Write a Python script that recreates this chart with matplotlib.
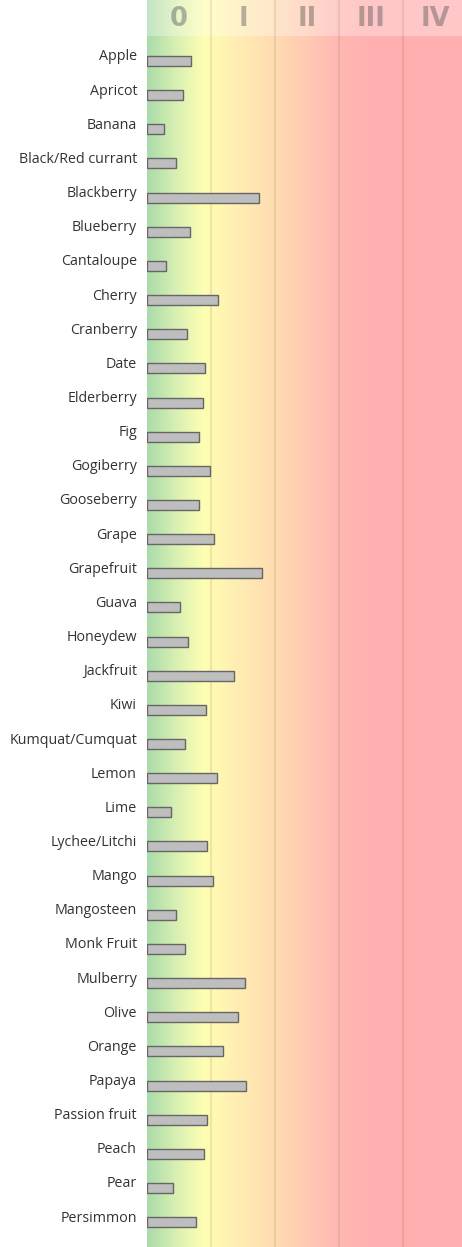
import numpy as np
import matplotlib
matplotlib.use("Agg")
import matplotlib.pyplot as plt
from matplotlib.colors import LinearSegmentedColormap

fruits = ["Apple", "Apricot", "Banana", "Black/Red currant", "Blackberry", "Blueberry",
          "Cantaloupe", "Cherry", "Cranberry", "Date", "Elderberry", "Fig", "Gogiberry",
          "Gooseberry", "Grape", "Grapefruit", "Guava", "Honeydew", "Jackfruit", "Kiwi",
          "Kumquat/Cumquat", "Lemon", "Lime", "Lychee/Litchi", "Mango", "Mangosteen",
          "Monk Fruit", "Mulberry", "Olive", "Orange", "Papaya", "Passion fruit", "Peach",
          "Pear", "Persimmon"]
values = [0.68, 0.56, 0.26, 0.46, 1.75, 0.67, 0.30, 1.11, 0.63, 0.91, 0.875, 0.82, 0.99,
          0.82, 1.04, 1.80, 0.51, 0.64, 1.36, 0.92, 0.60, 1.10, 0.37, 0.94, 1.03, 0.45,
          0.60, 1.53, 1.42, 1.19, 1.54, 0.94, 0.89, 0.41, 0.76]
classes = ["0", "I", "II", "III", "IV"]

W, H, DPI = 462, 1247, 100
fig = plt.figure(figsize=(W / DPI, H / DPI), dpi=DPI)
left = 147 / W
ax = fig.add_axes([left, 0, 1 - left, 1])

xmax = (W - 147) / 64.0
row = 34.15
top_i = -61 / row
bot_i = (H - 61) / row
ax.set_xlim(0, xmax)
ax.set_ylim(bot_i, top_i)

# background gradient
stops = [
    (0.00, (0.67, 0.86, 0.67)),
    (0.45, (0.85, 0.94, 0.70)),
    (0.90, (1.00, 1.00, 0.70)),
    (1.00, (1.00, 0.98, 0.70)),
    (2.00, (1.00, 0.86, 0.70)),
    (3.00, (1.00, 0.72, 0.70)),
    (3.50, (1.00, 0.69, 0.69)),
    (xmax, (1.00, 0.69, 0.69)),
]
cmap = LinearSegmentedColormap.from_list("bg", [(p / xmax, c) for p, c in stops])
grad = np.linspace(0, 1, 800).reshape(1, -1)
ax.imshow(grad, cmap=cmap, aspect="auto", extent=(0, xmax, bot_i, top_i),
          interpolation="bilinear", zorder=0)

# header band
hdr_bottom = (36 - 61) / row
ax.axhspan(top_i, hdr_bottom, color="white", alpha=0.3, lw=0, zorder=1)

# column lines
for k in range(1, 5):
    ax.axvline(k, color=(0.45, 0.35, 0.2), alpha=0.12, lw=1.6, zorder=1)

# header labels
hdr_y = (19 - 61) / row
for k, c in enumerate(classes):
    ax.text(k + 0.5, hdr_y, c, ha="center", va="center", fontsize=18.5,
            fontweight="bold", color="#505050", alpha=0.42, family="DejaVu Sans", zorder=2)

ypos = np.arange(len(fruits))
ax.barh(ypos, values, height=10 / row, left=0, color="#bebebe", edgecolor="#666666",
        linewidth=1.0, zorder=3)

for y, name in zip(ypos, fruits):
    ax.text(-10 / 64, y - 4 / row, name, ha="right", va="center", fontsize=10.3,
            family="Open Sans", color="#333333", clip_on=False)

ax.set_axis_off()
fig.savefig("out.png", dpi=DPI)
